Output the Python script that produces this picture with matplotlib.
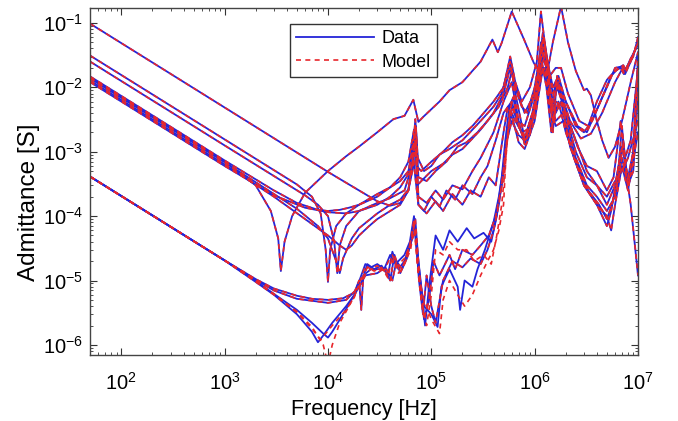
import matplotlib
matplotlib.use("Agg")
import matplotlib.pyplot as plt
from matplotlib.lines import Line2D
from matplotlib.ticker import LogLocator, NullFormatter

plt.rcParams['font.family'] = ['Liberation Sans', 'DejaVu Sans']
plt.rcParams['mathtext.fontset'] = 'custom'
plt.rcParams['mathtext.rm'] = 'Liberation Sans'
plt.rcParams['mathtext.it'] = 'Liberation Sans:italic'
plt.rcParams['mathtext.bf'] = 'Liberation Sans:bold'

# ---------------- data: (frequency [Hz], admittance [S]) ----------------
data_d = [(50, 0.014), (1e3, 7e-4), (2e3, 3e-4), (2.8e3, 1.2e-4), (3.3e3, 4.5e-5), (3.5e3, 1.4e-5),
          (3.8e3, 4e-5), (4.5e3, 1e-4), (6e3, 2.3e-4), (1e4, 5e-4), (1.5e4, 8.5e-4), (2e4, 1.2e-3),
          (3e4, 2e-3), (4.3e4, 3.2e-3), (5.5e4, 3.6e-3), (6.7e4, 6.4e-3), (7.5e4, 2.9e-3), (8.4e4, 3.5e-3),
          (1.2e5, 6e-3), (1.5e5, 9e-3), (2e5, 1.2e-2), (3e5, 0.025), (3.9e5, 0.055), (4.4e5, 0.035),
          (4.8e5, 0.049), (6e5, 0.15), (7.9e5, 0.055), (9.8e5, 0.024), (1.15e6, 0.016), (1.35e6, 0.02),
          (1.5e6, 0.05), (1.8e6, 0.18), (2.1e6, 0.05), (2.5e6, 0.018), (3e6, 0.009), (3.2e6, 0.0095),
          (3.5e6, 0.0075), (4e6, 0.003), (4.5e6, 1.5e-3), (5.2e6, 8e-4), (6e6, 1.2e-3), (7e6, 3e-3),
          (8.5e6, 0.012), (1e7, 0.035)]

data_u1 = [(50, 0.097), (1e3, 4.85e-3), (1e4, 4.85e-4), (2e4, 2.5e-4), (3e4, 1.7e-4), (4e4, 1.45e-4),
           (5e4, 1.6e-4), (6e4, 2.5e-4), (6.7e4, 6e-4), (7e4, 1.8e-3), (7.3e4, 3e-4), (8e4, 3.5e-4),
           (1e5, 5e-4), (1.3e5, 6.5e-4), (1.6e5, 9e-4), (2e5, 1.1e-3), (2.5e5, 1.6e-3), (3e5, 2.2e-3),
           (4e5, 4e-3), (5e5, 8e-3), (5.8e5, 0.02), (6.5e5, 0.01), (7.5e5, 5e-3), (8.5e5, 4e-3),
           (1e6, 0.01), (1.15e6, 0.04), (1.3e6, 0.02), (1.45e6, 5e-3), (1.6e6, 0.012), (1.8e6, 0.008),
           (2.2e6, 3e-3), (2.8e6, 1.6e-3), (3.5e6, 1.9e-3), (4.5e6, 4e-3), (6e6, 1.2e-2), (7e6, 0.019),
           (7.5e6, 0.016), (8.5e6, 0.025), (1e7, 0.05)]

data_u2 = [(50, 0.031), (1e3, 1.55e-3), (5e3, 3.1e-4), (7e3, 2e-4), (8.5e3, 1.1e-4), (9.5e3, 3e-5),
           (1e4, 9.5e-6), (1.05e4, 3e-5), (1.2e4, 7e-5), (1.5e4, 1.1e-4), (2e4, 1.5e-4), (3e4, 2.2e-4),
           (4e4, 2.8e-4), (5e4, 3.5e-4), (6e4, 5e-4), (6.7e4, 1.2e-3), (7e4, 3.2e-3), (7.4e4, 8e-4),
           (8.5e4, 5e-4), (1e5, 6e-4), (1.2e5, 9e-4), (1.5e5, 1.1e-3), (2e5, 1.5e-3), (3e5, 3e-3),
           (4e5, 5e-3), (4.8e5, 8e-3), (5.8e5, 0.025), (6.5e5, 8e-3), (8e5, 1.6e-3), (9.5e5, 4e-3),
           (1.1e6, 0.015), (1.2e6, 0.06), (1.35e6, 0.02), (1.5e6, 2e-3), (1.65e6, 0.015), (1.9e6, 5e-3),
           (2.5e6, 1e-3), (3.2e6, 4e-4), (4e6, 3e-4), (5e6, 1.5e-4), (6e6, 3e-4), (7e6, 1.2e-3),
           (8e6, 4e-4), (9e6, 1e-3), (1e7, 0.03)]

data_u3 = [(50, 0.025), (1e3, 1.25e-3), (6e3, 2.1e-4), (8e3, 1.5e-4), (1e4, 1e-4), (1.15e4, 4e-5),
           (1.23e4, 1.3e-5), (1.3e4, 3.5e-5), (1.5e4, 7e-5), (2e4, 1.2e-4), (3e4, 1.6e-4), (4e4, 1.9e-4),
           (5.5e4, 2.5e-4), (6.5e4, 6e-4), (7e4, 2.5e-3), (7.5e4, 2e-4), (9e4, 1.6e-4), (1.1e5, 2.5e-4),
           (1.3e5, 1.8e-4), (1.6e5, 3e-4), (2e5, 2.6e-4), (2.5e5, 5e-4), (3e5, 8e-4), (4e5, 2e-3),
           (5e5, 6e-3), (6e5, 0.012), (7e5, 3e-3), (8e5, 1.3e-3), (9.5e5, 3e-3), (1.1e6, 0.01),
           (1.25e6, 0.045), (1.4e6, 0.01), (1.6e6, 4e-3), (1.8e6, 6e-3), (2.2e6, 1.2e-3), (3e6, 3e-4),
           (4e6, 1.5e-4), (5e6, 7e-5), (5.5e6, 1.2e-4), (6.5e6, 6e-4), (7e6, 2.5e-3), (7.5e6, 6e-4),
           (8.5e6, 1.5e-4), (1e7, 1.2e-5)]

data_u4 = [(50, 0.0147), (1e3, 7.3e-4), (3e3, 2.5e-4), (5e3, 1.6e-4), (8e3, 1.25e-4), (1e4, 1.2e-4),
           (1.3e4, 1.25e-4), (1.6e4, 1.35e-4), (2e4, 1.5e-4), (3e4, 2e-4), (4e4, 2.8e-4), (5e4, 4e-4),
           (6e4, 7e-4), (6.8e4, 2.2e-3), (7.2e4, 6e-4), (8e4, 5e-4), (1e5, 7e-4), (1.3e5, 1e-3),
           (1.6e5, 1.4e-3), (2e5, 1.8e-3), (2.5e5, 2.5e-3), (3e5, 3.5e-3), (4e5, 6e-3), (5e5, 0.01),
           (5.8e5, 0.03), (6.5e5, 0.012), (7.5e5, 6e-3), (9e5, 0.01), (1.05e6, 0.025), (1.15e6, 0.15),
           (1.3e6, 0.03), (1.5e6, 0.01), (1.7e6, 0.015), (2e6, 6e-3), (2.6e6, 2.5e-3), (3.2e6, 2e-3),
           (4e6, 4.5e-3), (5e6, 0.01), (6e6, 0.02), (7e6, 0.021), (7.5e6, 0.018), (9e6, 0.03), (1e7, 0.06)]

data_u5 = [(50, 0.0137), (1e3, 6.85e-4), (5e3, 1.3e-4), (8e3, 7e-5), (1e4, 4.5e-5), (1.2e4, 2e-5),
           (1.3e4, 1.3e-5), (1.4e4, 2.2e-5), (1.7e4, 4.5e-5), (2e4, 6.5e-5), (3e4, 1.1e-4), (4e4, 1.5e-4),
           (5e4, 1.8e-4), (6e4, 2.6e-4), (6.7e4, 9e-4), (7e4, 1.5e-3), (7.5e4, 1.5e-4), (8.5e4, 1.2e-4),
           (1e5, 2e-4), (1.2e5, 1.4e-4), (1.4e5, 2.5e-4), (1.7e5, 1.8e-4), (2e5, 3e-4), (2.5e5, 2.2e-4),
           (3e5, 4e-4), (3.5e5, 6e-4), (4.2e5, 1.5e-3), (5e5, 4e-3), (6e5, 6e-3), (7e5, 2.5e-3),
           (8e5, 1.6e-3), (1e6, 4e-3), (1.15e6, 0.02), (1.25e6, 0.03), (1.4e6, 7e-3), (1.6e6, 3e-3),
           (1.9e6, 4e-3), (2.5e6, 8e-4), (3.2e6, 3e-4), (4e6, 2e-4), (5e6, 1.2e-4), (6e6, 2e-4),
           (7e6, 8e-4), (8e6, 3e-4), (9e6, 1e-3), (1e7, 0.015)]

data_u6 = [(50, 0.0127), (1e3, 6.35e-4), (3e3, 2e-4), (6e3, 9e-5), (1e4, 5e-5), (1.3e4, 3.5e-5),
           (1.5e4, 3e-5), (1.7e4, 3.5e-5), (2e4, 5e-5), (2.5e4, 7e-5), (3e4, 9e-5), (4e4, 1.2e-4),
           (5e4, 1.5e-4), (6e4, 2.5e-4), (6.7e4, 8e-4), (7e4, 4e-4), (7.5e4, 1.5e-4), (9e4, 1.1e-4),
           (1.1e5, 1.7e-4), (1.3e5, 1.2e-4), (1.6e5, 2.2e-4), (2e5, 1.5e-4), (2.4e5, 2.5e-4), (3e5, 2e-4),
           (3.6e5, 4e-4), (4.2e5, 3e-4), (5e5, 2e-3), (5.5e5, 5e-3), (6.2e5, 3e-3), (7e5, 1.4e-3),
           (8e5, 1.1e-3), (1e6, 3e-3), (1.2e6, 0.02), (1.35e6, 0.015), (1.5e6, 3e-3), (1.7e6, 6e-3),
           (2e6, 2e-3), (2.6e6, 6e-4), (3.3e6, 2.5e-4), (4.2e6, 1.5e-4), (5e6, 9e-5), (5.6e6, 1.5e-4),
           (6.5e6, 4e-4), (7.2e6, 1.5e-3), (8e6, 3e-4), (9e6, 5e-4), (1e7, 0.008)]

data_u7 = [(50, 0.012), (1e3, 6e-4), (3e3, 2.1e-4), (6e3, 1.35e-4), (1e4, 1.15e-4), (1.5e4, 1.1e-4),
           (2e4, 1.2e-4), (3e4, 1.5e-4), (4e4, 2e-4), (5e4, 2.8e-4), (6e4, 4.5e-4), (6.7e4, 1.5e-3),
           (7.1e4, 2.5e-3), (7.5e4, 4e-4), (9e4, 3.5e-4), (1.1e5, 5e-4), (1.4e5, 7e-4), (1.8e5, 1.2e-3),
           (2.2e5, 1.4e-3), (2.8e5, 2e-3), (3.5e5, 3e-3), (4.5e5, 5e-3), (5.5e5, 0.01), (6e5, 0.018),
           (6.8e5, 8e-3), (8e5, 4e-3), (1e6, 8e-3), (1.15e6, 0.03), (1.25e6, 0.05), (1.4e6, 0.015),
           (1.6e6, 0.02), (1.8e6, 0.02), (2.1e6, 8e-3), (2.7e6, 3e-3), (3.3e6, 2.5e-3), (4e6, 6e-3),
           (5e6, 0.013), (6e6, 0.018), (6.8e6, 0.02), (7.3e6, 0.016), (8.5e6, 0.028), (1e7, 0.045)]

data_l1 = [(50, 4.1e-4), (1e3, 2.05e-5), (2e3, 1.05e-5), (3e3, 7.5e-6), (5e3, 5.8e-6), (7e3, 5.2e-6),
           (1e4, 5e-6), (1.4e4, 5.3e-6), (1.8e4, 6.5e-6), (2e4, 1e-5), (2.1e4, 3.5e-6), (2.2e4, 1.2e-5),
           (2.6e4, 1.5e-5), (3.5e4, 1.5e-5), (4e4, 1e-5), (4.4e4, 2.5e-5), (5e4, 1.3e-5), (5.8e4, 2.2e-5),
           (6.5e4, 5e-5), (7e4, 9e-5), (7.5e4, 2e-5), (8.5e4, 2.5e-6), (9.5e4, 5e-6), (1.05e5, 2e-5),
           (1.2e5, 1.2e-5), (1.5e5, 2.5e-5), (1.7e5, 1.5e-5), (2e5, 3e-5), (2.5e5, 2.5e-5), (3e5, 3.5e-5),
           (3.6e5, 5e-5), (4.2e5, 1e-4), (4.8e5, 3e-4), (5.2e5, 1e-3), (5.6e5, 2.5e-3), (6e5, 4e-3),
           (6.5e5, 3e-3), (7.5e5, 2e-3), (8.5e5, 2.2e-3), (1e6, 5e-3), (1.15e6, 0.03), (1.3e6, 0.01),
           (1.45e6, 2e-3), (1.6e6, 6e-3), (1.9e6, 5e-3), (2.5e6, 1.5e-3), (3.2e6, 5e-4), (4e6, 3e-4),
           (5e6, 2e-4), (6e6, 3.5e-4), (7e6, 5e-4), (8e6, 8e-4), (1e7, 3e-3)]

data_l2 = [(50, 4.1e-4), (1e3, 2.05e-5), (2e3, 1.02e-5), (3e3, 7e-6), (5e3, 5.2e-6), (1e4, 4.5e-6),
           (1.5e4, 5e-6), (2e4, 8e-6), (2.3e4, 1.2e-5), (3e4, 1.3e-5), (3.6e4, 1.6e-5), (4.2e4, 1e-5),
           (4.6e4, 2e-5), (5.2e4, 1.5e-5), (6e4, 3e-5), (7e4, 6e-5), (7.6e4, 1e-5), (8.3e4, 3e-6),
           (9e4, 1.2e-5), (1e5, 4e-6), (1.1e5, 2.2e-6), (1.3e5, 1e-5), (1.6e5, 2e-5), (2e5, 1.6e-5),
           (2.4e5, 2.2e-5), (3e5, 1.8e-5), (3.5e5, 3e-5), (4e5, 6e-5), (4.5e5, 1.5e-4), (5e5, 5e-4),
           (5.4e5, 1.5e-3), (6e5, 3e-3), (7e5, 1.8e-3), (8e5, 1.5e-3), (9.5e5, 3e-3), (1.1e6, 0.012),
           (1.25e6, 0.02), (1.4e6, 5e-3), (1.6e6, 2.5e-3), (1.9e6, 3e-3), (2.4e6, 8e-4), (3e6, 3e-4),
           (4e6, 1.5e-4), (5e6, 1e-4), (5.5e6, 6e-5), (6e6, 1.5e-4), (7e6, 6e-4), (8e6, 2.5e-4),
           (1e7, 2e-3)]

data_l3 = [(50, 4.1e-4), (1e3, 2.05e-5), (2e3, 9.5e-6), (3e3, 6e-6), (5e3, 3e-6), (7e3, 1.6e-6),
           (8e3, 1.1e-6), (9e3, 1.4e-6), (1.1e4, 2.2e-6), (1.5e4, 4e-6), (1.8e4, 6e-6), (2.1e4, 1.2e-5),
           (2.3e4, 1.8e-5), (2.6e4, 1.6e-5), (3e4, 1.8e-5), (3.5e4, 1.5e-5), (4e4, 2.5e-5), (4.5e4, 1.8e-5),
           (5.5e4, 2.5e-5), (6.2e4, 4e-5), (6.8e4, 1e-4), (7.3e4, 3e-5), (8e4, 8e-6), (8.7e4, 2e-6),
           (9.5e4, 8e-6), (1.1e5, 5e-5), (1.3e5, 3e-5), (1.5e5, 6e-5), (1.8e5, 4e-5), (2.2e5, 6.5e-5),
           (2.6e5, 4.5e-5), (3.2e5, 5.5e-5), (3.8e5, 4e-5), (4.3e5, 1e-4), (4.8e5, 4e-4), (5.2e5, 1.5e-3),
           (5.7e5, 5e-3), (6.2e5, 7e-3), (7e5, 2.5e-3), (8e5, 1.5e-3), (9e5, 1.8e-3), (1e6, 5e-3),
           (1.15e6, 0.05), (1.3e6, 0.02), (1.45e6, 4e-3), (1.65e6, 0.01), (2e6, 4e-3), (2.6e6, 1.2e-3),
           (3.2e6, 6e-4), (4e6, 5e-4), (5e6, 2.5e-4), (5.8e6, 4e-4), (6.8e6, 3e-3), (7.5e6, 8e-4),
           (8.5e6, 1.5e-3), (1e7, 0.02)]

data_l4 = [(50, 4.1e-4), (1e3, 2.05e-5), (2e3, 9.8e-6), (3e3, 6.2e-6), (5e3, 3.5e-6), (7e3, 2.2e-6),
           (9e3, 1.5e-6), (1e4, 1.3e-6), (1.1e4, 1.6e-6), (1.4e4, 3e-6), (1.8e4, 6e-6), (2.1e4, 9e-6),
           (2.4e4, 1.8e-5), (2.8e4, 1.5e-5), (3.3e4, 1.7e-5), (3.8e4, 1.2e-5), (4.2e4, 2.8e-5), (4.8e4, 1.5e-5),
           (5.5e4, 2e-5), (6.3e4, 3.5e-5), (6.8e4, 8e-5), (7.5e4, 1.5e-5), (8.5e4, 4e-6), (1e5, 3e-6),
           (1.15e5, 1.9e-6), (1.25e5, 8e-6), (1.5e5, 1.5e-5), (1.8e5, 8e-6), (1.9e5, 3.5e-6), (2.1e5, 1e-5),
           (2.5e5, 8e-6), (2.8e5, 1.5e-5), (3.3e5, 3e-5), (4e5, 8e-5), (4.5e5, 2e-4), (5e5, 6e-4),
           (5.5e5, 2e-3), (6e5, 5e-3), (6.8e5, 3e-3), (8e5, 2.5e-3), (9.5e5, 6e-3), (1.1e6, 0.02),
           (1.2e6, 0.07), (1.35e6, 0.02), (1.5e6, 8e-3), (1.7e6, 0.012), (2e6, 6e-3), (2.5e6, 2.5e-3),
           (3e6, 2e-3), (3.6e6, 3e-3), (4.5e6, 7e-3), (5.5e6, 0.015), (6.5e6, 0.02), (7.2e6, 0.022),
           (7.6e6, 0.019), (8.8e6, 0.03), (1e7, 0.05)]

# model curves that differ visibly from the measured data
model_l3 = [(50, 4.1e-4), (1e3, 2.05e-5), (2e3, 9.5e-6), (3e3, 6e-6), (5e3, 3.2e-6), (7e3, 1.8e-6),
            (8.5e3, 1.2e-6), (9.5e3, 1.5e-6), (1.1e4, 2e-6), (1.5e4, 3.5e-6), (1.8e4, 5.5e-6), (2.1e4, 1.1e-5),
            (2.3e4, 1.7e-5), (2.6e4, 1.5e-5), (3e4, 1.7e-5), (3.5e4, 1.4e-5), (4e4, 2.3e-5), (4.5e4, 1.6e-5),
            (5.5e4, 2.2e-5), (6.2e4, 3.5e-5), (6.8e4, 9e-5), (7.3e4, 2e-5), (8e4, 5e-6), (9e4, 2e-6),
            (1e5, 6e-6), (1.1e5, 3e-5), (1.3e5, 2.5e-5), (1.5e5, 4e-5), (1.8e5, 3e-5), (2.2e5, 3e-5),
            (2.6e5, 2e-5), (3.2e5, 2.5e-5), (3.8e5, 1.8e-5), (4.3e5, 5e-5), (4.8e5, 1.5e-4), (5.2e5, 6e-4),
            (5.7e5, 4e-3), (6.2e5, 7e-3), (7e5, 2.5e-3), (8e5, 1.5e-3), (9e5, 1.8e-3), (1e6, 5e-3),
            (1.15e6, 0.05), (1.3e6, 0.02), (1.45e6, 4e-3), (1.65e6, 0.01), (2e6, 4e-3), (2.6e6, 1.2e-3),
            (3.2e6, 6e-4), (4e6, 5e-4), (5e6, 2.5e-4), (5.8e6, 4e-4), (6.8e6, 3e-3), (7.5e6, 8e-4),
            (8.5e6, 1.5e-3), (1e7, 0.02)]

model_l4 = [(50, 4.1e-4), (1e3, 2.05e-5), (2e3, 9.8e-6), (3e3, 6.2e-6), (5e3, 3.3e-6), (7e3, 1.9e-6),
            (9e3, 1e-6), (1e4, 5e-7), (1.1e4, 1e-6), (1.3e4, 2.2e-6), (1.6e4, 4e-6), (2e4, 8e-6),
            (2.4e4, 1.6e-5), (2.8e4, 1.4e-5), (3.3e4, 1.6e-5), (3.8e4, 1.1e-5), (4.2e4, 2.5e-5), (4.8e4, 1.3e-5),
            (5.5e4, 1.8e-5), (6.3e4, 3e-5), (6.8e4, 7e-5), (7.5e4, 1.2e-5), (8.5e4, 5e-6), (1e5, 2.5e-6),
            (1.2e5, 1.5e-6), (1.3e5, 5e-6), (1.5e5, 1e-5), (1.8e5, 6e-6), (2.1e5, 4e-6), (2.5e5, 6e-6),
            (3e5, 1.2e-5), (3.5e5, 2e-5), (4e5, 3e-5), (4.5e5, 6e-5), (5e5, 1.5e-4), (5.3e5, 1e-3),
            (5.7e5, 3e-3), (6e5, 5e-3), (6.8e5, 3e-3), (8e5, 2.5e-3), (9.5e5, 6e-3), (1.1e6, 0.02),
            (1.2e6, 0.07), (1.35e6, 0.02), (1.5e6, 8e-3), (1.7e6, 0.012), (2e6, 6e-3), (2.5e6, 2.5e-3),
            (3e6, 2e-3), (3.6e6, 3e-3), (4.5e6, 7e-3), (5.5e6, 0.015), (6.5e6, 0.02), (7.2e6, 0.022),
            (7.6e6, 0.019), (8.8e6, 0.03), (1e7, 0.05)]

curves = [
    (data_u1, data_u1), (data_u2, data_u2), (data_u3, data_u3), (data_u4, data_u4),
    (data_u5, data_u5), (data_u6, data_u6), (data_u7, data_u7), (data_d, data_d),
    (data_l1, data_l1), (data_l2, data_l2), (data_l3, model_l3), (data_l4, model_l4),
]

legend_labels = ["Data", "Model"]
x_label = "Frequency [Hz]"
y_label = "Admittance [S]"

BLUE = "#2424d8"
RED = "#e8262b"
DASH = (0, (3.0, 2.6))

fig = plt.figure(figsize=(6.78, 4.21), dpi=100)
ax = fig.add_axes([0.133, 0.157, 0.808, 0.824])

for dat, mod in curves:
    f, y = zip(*dat)
    ax.plot(f, y, color=BLUE, lw=1.3, solid_joinstyle='round')
for dat, mod in curves:
    f, y = zip(*mod)
    ax.plot(f, y, color=RED, lw=1.2, linestyle=DASH)

ax.set_xscale('log')
ax.set_yscale('log')
ax.set_xlim(50, 1e7)
ax.set_ylim(7e-7, 0.17)

ax.xaxis.set_major_locator(LogLocator(base=10, numticks=20))
ax.yaxis.set_major_locator(LogLocator(base=10, numticks=20))
ax.xaxis.set_minor_locator(LogLocator(base=10, subs=range(2, 10), numticks=100))
ax.yaxis.set_minor_locator(LogLocator(base=10, subs=range(2, 10), numticks=100))
ax.xaxis.set_minor_formatter(NullFormatter())
ax.yaxis.set_minor_formatter(NullFormatter())

ax.tick_params(which='both', direction='in', top=True, right=True, colors='#333333',
               labelcolor='black', labelsize=14.5)
ax.tick_params(axis='x', which='major', pad=12)
ax.tick_params(axis='y', which='major', pad=5)
ax.tick_params(which='major', length=5, width=0.8)
ax.tick_params(which='minor', length=2.5, width=0.6)
for s in ax.spines.values():
    s.set_color('#444444')
    s.set_linewidth(1.0)

ax.set_xlabel(x_label, fontsize=15.5, labelpad=4)
ax.set_ylabel(y_label, fontsize=17.5)
ax.yaxis.set_label_coords(-0.092, 0.44)

handles = [Line2D([], [], color=BLUE, lw=1.3), Line2D([], [], color=RED, lw=1.2, linestyle=DASH)]
leg = ax.legend(handles, legend_labels, loc='upper left', bbox_to_anchor=(0.365, 0.954),
                fontsize=13, handlelength=4.3, handletextpad=0.4, borderpad=0.35,
                labelspacing=0.35, fancybox=False, framealpha=1, edgecolor='#333333', borderaxespad=0)
leg.get_frame().set_linewidth(1.0)

fig.savefig("out.png", dpi=100)
